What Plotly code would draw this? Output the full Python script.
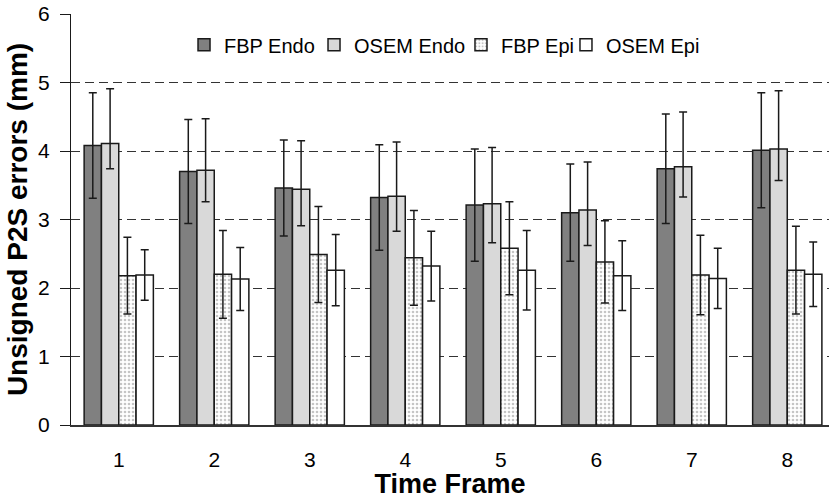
import plotly.graph_objects as go

# Time frames (categories)
frames = [1, 2, 3, 4, 5, 6, 7, 8]
frame_labels = ["1", "2", "3", "4", "5", "6", "7", "8"]

# Mean unsigned point-to-surface errors (mm)
fbp_endo = [4.08, 3.70, 3.46, 3.32, 3.21, 3.10, 3.74, 4.01]
osem_endo = [4.11, 3.72, 3.44, 3.34, 3.23, 3.14, 3.77, 4.03]
fbp_epi = [2.18, 2.20, 2.49, 2.44, 2.58, 2.38, 2.19, 2.26]
osem_epi = [2.19, 2.13, 2.26, 2.32, 2.26, 2.18, 2.14, 2.20]

# Error bar extents (mm)
fbp_endo_err = [0.77, 0.76, 0.70, 0.77, 0.82, 0.71, 0.80, 0.84]
osem_endo_err_up = [0.80, 0.75, 0.71, 0.79, 0.82, 0.70, 0.80, 0.85]
osem_endo_err_down = [0.37, 0.46, 0.53, 0.51, 0.57, 0.52, 0.44, 0.46]
fbp_epi_err = [0.56, 0.64, 0.70, 0.69, 0.68, 0.60, 0.58, 0.64]
osem_epi_err = [0.37, 0.46, 0.52, 0.51, 0.58, 0.51, 0.44, 0.47]

FONT = "Arial, Liberation Sans, sans-serif"
outline = dict(color="#1a1a1a", width=1.5)
err_style = dict(color="#1a1a1a", thickness=1.5, width=4)

fig = go.Figure()
fig.add_trace(go.Bar(
    name="FBP Endo", x=frames, y=fbp_endo, legend="legend",
    marker=dict(color="#808080", line=outline),
    error_y=dict(type="data", array=fbp_endo_err, **err_style),
))
fig.add_trace(go.Bar(
    name="OSEM Endo", x=frames, y=osem_endo, legend="legend2",
    marker=dict(color="#d9d9d9", line=outline),
    error_y=dict(type="data", symmetric=False, array=osem_endo_err_up,
                 arrayminus=osem_endo_err_down, **err_style),
))
fig.add_trace(go.Bar(
    name="FBP Epi", x=frames, y=fbp_epi, legend="legend3",
    marker=dict(color="white", line=outline,
                pattern=dict(shape=".", fgcolor="#8c8c8c", bgcolor="white",
                             size=4, solidity=0.35)),
    error_y=dict(type="data", array=fbp_epi_err, **err_style),
))
fig.add_trace(go.Bar(
    name="OSEM Epi", x=frames, y=osem_epi, legend="legend4",
    marker=dict(color="white", line=outline),
    error_y=dict(type="data", array=osem_epi_err, **err_style),
))


def legend_box(xpos):
    return dict(
        orientation="h", x=xpos, y=0.925, xanchor="left", yanchor="middle",
        font=dict(family=FONT, size=20, color="black"),
        bgcolor="rgba(0,0,0,0)", itemwidth=30,
    )


fig.update_layout(
    width=829, height=499,
    margin=dict(l=71, r=0, t=14, b=74),
    paper_bgcolor="white", plot_bgcolor="white",
    barmode="group", bargap=0.275, bargroupgap=0,
    font=dict(family=FONT, color="black", size=21),
    showlegend=True,
    legend=legend_box(0.1491),
    legend2=legend_box(0.3206),
    legend3=legend_box(0.5145),
    legend4=legend_box(0.6530),
)

fig.update_xaxes(
    range=[0.5, 8.437],
    tickmode="array", tickvals=frames, ticktext=frame_labels,
    tickfont=dict(family=FONT, size=21),
    ticks="", ticklabelstandoff=15,
    showline=True, linecolor="#333333", linewidth=1.5,
    showgrid=False, zeroline=False,
    title=dict(text="<b>Time Frame</b>", font=dict(family=FONT, size=27),
               standoff=0),
)

fig.update_yaxes(
    range=[0, 6], tickmode="array", tickvals=[0, 1, 2, 3, 4, 5, 6],
    tickfont=dict(family=FONT, size=21),
    ticks="outside", ticklen=10, tickcolor="#1a1a1a", tickwidth=1.3,
    ticklabelstandoff=6,
    showline=True, linecolor="#1a1a1a", linewidth=1.3,
    showgrid=True, gridcolor="#333333", gridwidth=1.3, griddash="9px,5px",
    zeroline=False,
    title=dict(text="<b>Unsigned P2S errors (mm)</b>",
               font=dict(family=FONT, size=28), standoff=2),
)

fig.write_html("out.html")
